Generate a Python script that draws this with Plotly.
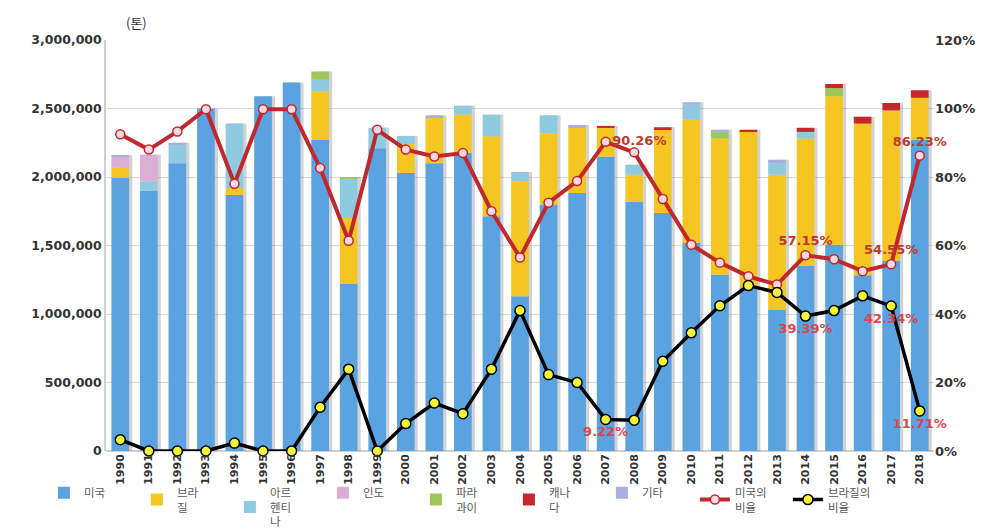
import plotly.graph_objects as go

years = [str(y) for y in range(1990, 2019)]

us = [1995000, 1900000, 2100000, 2500000, 1870000, 2590000, 2690000, 2270000, 1220000, 2210000,
      2030000, 2100000, 2175000, 1713000, 1129000, 1800000, 1883000, 2148000, 1820000, 1737000,
      1518000, 1287000, 1196000, 1030000, 1350000, 1506000, 1283000, 1386000, 2270000]
brazil = [72000, 0, 0, 0, 50000, 0, 0, 355000, 480000, 0,
          210000, 336000, 280000, 584000, 840000, 520000, 475000, 210000, 197000, 613000,
          900000, 993000, 1132000, 987000, 931000, 1083000, 1107000, 1100000, 308000]
argentina = [0, 68000, 136000, 0, 470000, 0, 0, 85000, 290000, 150000,
             60000, 0, 65000, 158000, 61000, 130000, 0, 0, 73000, 0,
             110000, 0, 0, 83000, 48000, 0, 0, 0, 0]
india = [83000, 195000, 0, 0, 0, 0, 0, 0, 0, 0,
         0, 0, 0, 0, 0, 0, 0, 0, 0, 0,
         0, 0, 0, 0, 0, 0, 0, 0, 0]
paraguay = [0, 0, 0, 0, 0, 0, 0, 60000, 10000, 0,
            0, 0, 0, 0, 0, 0, 0, 0, 0, 0,
            0, 48000, 0, 0, 0, 60000, 0, 0, 0]
canada = [0, 0, 0, 0, 0, 0, 0, 0, 0, 0,
          0, 0, 0, 0, 0, 0, 0, 15000, 0, 13000,
          0, 0, 17000, 0, 30000, 30000, 50000, 54000, 55000]
other = [10000, 0, 14000, 0, 0, 0, 0, 0, 0, 0,
         0, 14000, 0, 0, 5000, 0, 22000, 0, 0, 0,
         17000, 17000, 0, 26000, 0, 0, 0, 0, 0]

us_ratio = [92.5, 88.0, 93.3, 99.8, 78.0, 99.8, 99.8, 82.6, 61.4, 93.8,
            88.0, 86.0, 87.0, 70.0, 56.5, 72.5, 78.8, 90.26, 87.2, 73.6,
            60.2, 55.0, 51.0, 48.6, 57.15, 56.0, 52.5, 54.55, 86.23]
br_ratio = [3.3, 0.0, 0.0, 0.0, 2.3, 0.0, 0.0, 12.8, 23.9, 0.0,
            8.0, 14.0, 10.9, 23.9, 41.0, 22.3, 20.0, 9.22, 9.0, 26.2,
            34.5, 42.4, 48.3, 46.3, 39.39, 41.0, 45.3, 42.34, 11.71]

us_lbl = {"2007": ("90.26%", "middle right"), "2014": ("57.15%", "top center"),
          "2017": ("54.55%", "top center"), "2018": ("86.23%", "top center")}
br_lbl = {"2007": ("9.22%", "bottom center"), "2014": ("39.39%", "bottom center"),
          "2017": ("42.34%", "bottom center"), "2018": ("11.71%", "bottom center")}

num_font = "DejaVu Sans"
kr_font = "Noto Sans CJK KR"

fig = go.Figure()

bars = [
    ("미국", us, "#5BA3E0"),
    ("브라<br>질", brazil, "#F5C622"),
    ("아르<br>헨티<br>나", argentina, "#8FCBE0"),
    ("인도", india, "#DBAED6"),
    ("파라<br>과이", paraguay, "#9CC85A"),
    ("캐나<br>다", canada, "#C6282B"),
    ("기타", other, "#A9AEDD"),
]

BW = 0.62
totals = [sum(v) for v in zip(*[b[1] for b in bars])]
# soft shadow behind each stacked column
fig.add_trace(go.Bar(x=years, y=totals, base=[0] * len(years), width=BW, offset=-BW / 2 + 0.11,
                     marker=dict(color="rgba(110,110,110,0.30)", line=dict(width=0)),
                     showlegend=False, hoverinfo="skip"))

base = [0] * len(years)
for name, vals, col in bars:
    fig.add_trace(go.Bar(x=years, y=vals, base=list(base), name=name, width=BW, offset=-BW / 2,
                         marker=dict(color=col, line=dict(width=0))))
    base = [b + v for b, v in zip(base, vals)]


def texts(lbls):
    t = [lbls[y][0] if y in lbls else "" for y in years]
    p = [lbls[y][1] if y in lbls else "top center" for y in years]
    return t, p


t1, p1 = texts(us_lbl)
fig.add_trace(go.Scatter(x=years, y=us_ratio, yaxis="y2", name="미국의<br>비율", mode="lines+markers+text",
                         line=dict(color="#C0282D", width=4),
                         marker=dict(size=9, color="#F8D8E0", line=dict(color="#C0282D", width=1.5)),
                         text=t1, textposition=p1, cliponaxis=False,
                         textfont=dict(family=num_font, size=13, color="#C0392B", weight="bold")))
t2, p2 = texts(br_lbl)
fig.add_trace(go.Scatter(x=years, y=br_ratio, yaxis="y2", name="브라질의<br>비율", mode="lines+markers+text",
                         line=dict(color="#000000", width=3.5),
                         marker=dict(size=10, color="#F2F53A", line=dict(color="#000000", width=1.5)),
                         text=t2, textposition=p2, cliponaxis=False,
                         textfont=dict(family=num_font, size=13, color="#D9474F", weight="bold")))

fig.update_layout(
    width=986, height=529,
    margin=dict(l=98, r=60, t=32, b=86, autoexpand=False),
    barmode="overlay",
    plot_bgcolor="white", paper_bgcolor="white",
    font=dict(family=kr_font, color="#404040"),
    xaxis=dict(type="category", range=[-0.5, len(years) - 0.5], tickangle=-90, showgrid=False, ticks="",
               tickfont=dict(family=num_font, size=11, color="#333333", weight="bold"),
               showline=False, automargin=False),
    yaxis=dict(range=[0, 3000000], dtick=500000, tickformat=",d",
               showgrid=True, gridcolor="#D9D9D9", gridwidth=1,
               showline=True, linecolor="#D0D0D0", linewidth=1.5, zeroline=True,
               zerolinecolor="#D0D0D0", automargin=False,
               tickfont=dict(family=num_font, size=12.5, color="#333333", weight="bold"),
               ticks=""),
    yaxis2=dict(range=[0, 120], dtick=20, ticksuffix="%", overlaying="y", side="right",
                showgrid=False, showline=False, zeroline=False, automargin=False,
                tickfont=dict(family=num_font, size=13, color="#333333", weight="bold")),
    legend=dict(orientation="h", x=-0.075, y=-0.066, xanchor="left", yanchor="top",
                entrywidth=48, font=dict(family=kr_font, size=11.5, color="#595959"),
                bgcolor="rgba(0,0,0,0)", traceorder="normal", valign="middle", tracegroupgap=0),
    annotations=[dict(text="(톤)", x=(128 - 98) / 828, y=1 + (32 - 15) / 411, xref="paper", yref="paper",
                      showarrow=False, xanchor="center", yanchor="middle",
                      font=dict(family=kr_font, size=13, color="#333333"))],
)

fig.write_html("out.html")
